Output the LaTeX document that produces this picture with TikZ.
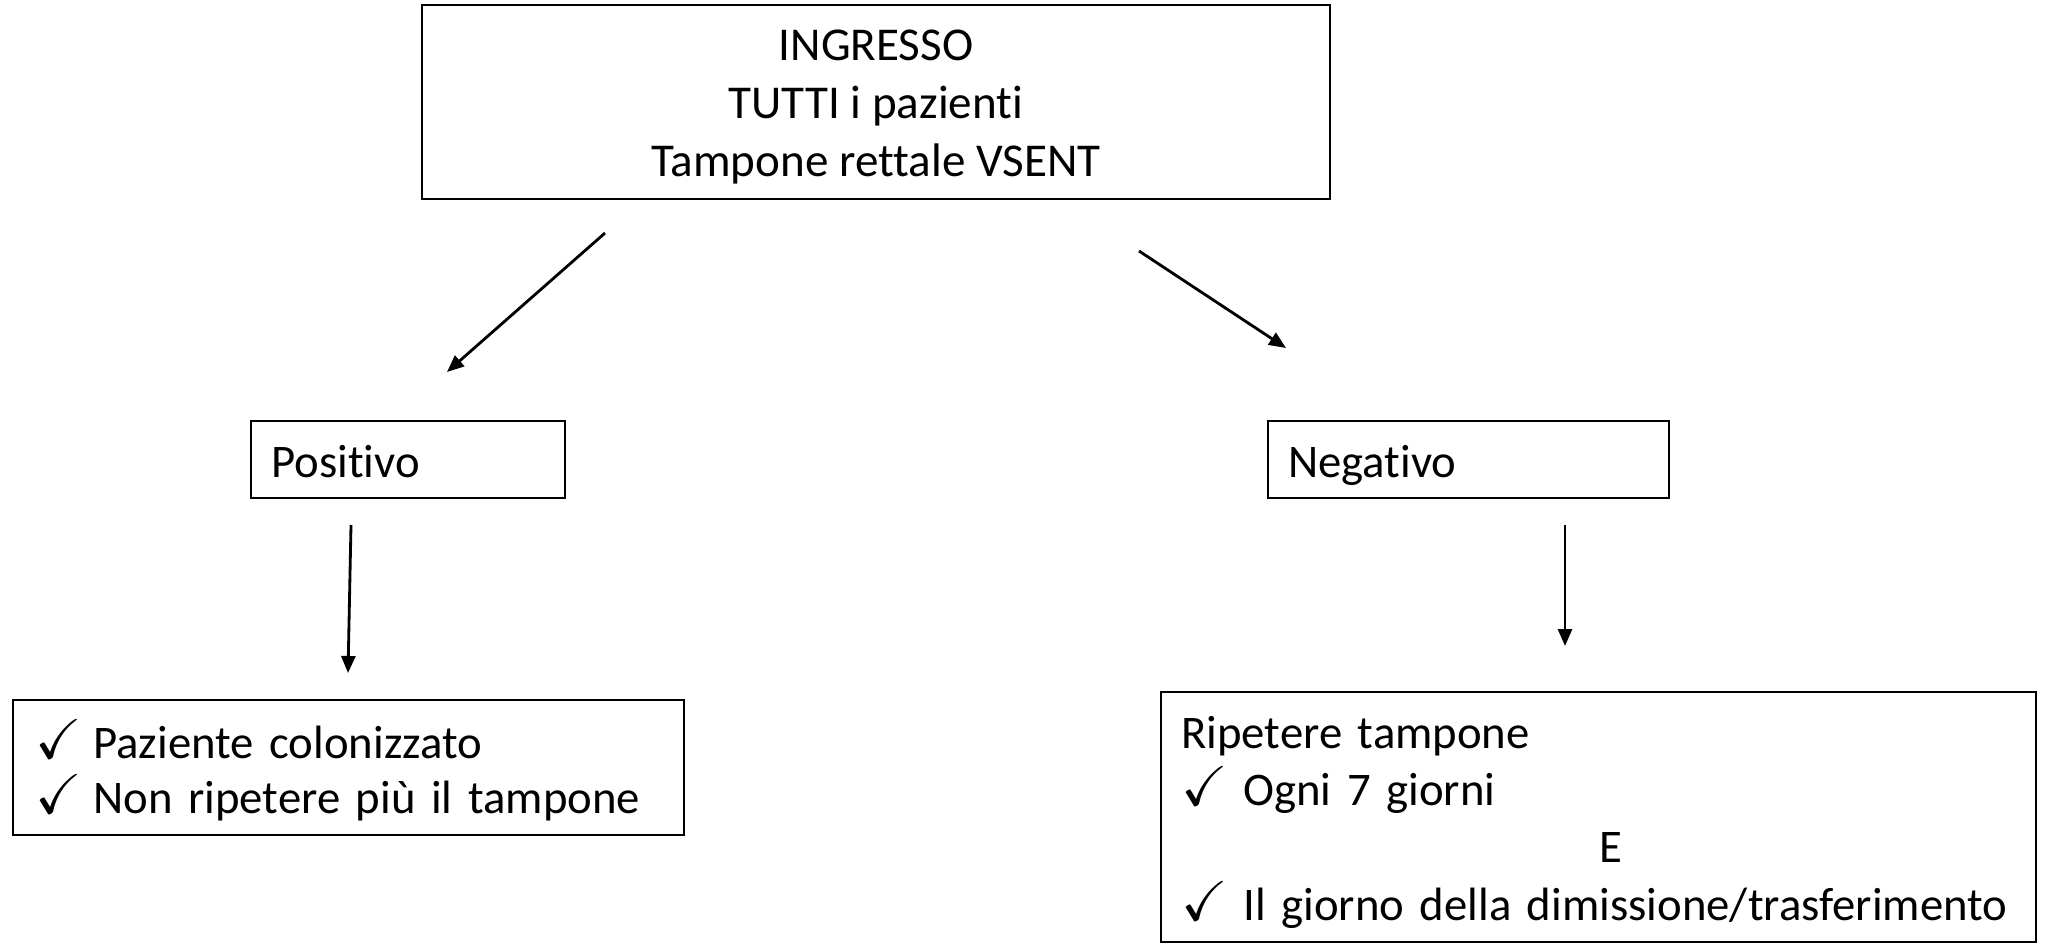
\documentclass[tikz,border=0pt]{standalone}
\usepackage{amssymb}
\usepackage{graphicx}
\usepackage{fontspec}
\setmainfont{Carlito}[Ligatures=NoCommon]
\usetikzlibrary{arrows.meta}
\newcommand{\ck}[1][0.58cm]{\makebox[#1][l]{\scalebox{1.2}{$\checkmark$}}}
\begin{document}
\begin{tikzpicture}[x=1cm,y=-1cm,
  box/.style={draw=black, line width=0.8pt, inner sep=0pt},
  txt/.style={inner sep=0pt, font=\fontsize{13.3}{16.3}\selectfont},
  oneline/.style={text height=0.40cm, text depth=0.04cm},
  flow/.style={line width=0.8pt, -{Triangle[length=0.17cm,width=0.14cm]}}]
\useasboundingbox (0,0) rectangle (20.62,9.44);

% frames
\node[box, minimum width=9.08cm, minimum height=1.94cm] (ing) at (8.76,1.02) {};
\node[box, minimum width=3.14cm, minimum height=0.77cm] (pos) at (4.08,4.595) {};
\node[box, minimum width=4.01cm, minimum height=0.77cm] (neg) at (14.685,4.595) {};
\node[box, minimum width=6.71cm, minimum height=1.35cm] (col) at (3.485,7.675) {};
\node[box, minimum width=8.75cm, minimum height=2.50cm] (rip) at (15.985,8.17) {};

% texts inside the frames
\node[txt, align=center, font=\fontsize{13.4}{16.6}\selectfont, yshift=-0.05cm]
  (ingt) at (ing.center) {INGRESSO\\TUTTI i pazienti\\Tampone rettale VSENT};
\node[txt, oneline, anchor=west, xshift=0.21cm] (post) at (pos.west) {Positivo};
\node[txt, oneline, anchor=west, xshift=0.21cm] (negt) at (neg.west) {Negativo};
\node[txt, text width=6.25cm, align=left, anchor=west, xshift=0.23cm, yshift=-0.03cm,
  font=\fontsize{13.3}{15.8}\selectfont] (colt) at (col.west)
  {\ck Paziente colonizzato\\\ck Non ripetere più il tampone};
\node[txt, text width=8.33cm, align=left, anchor=west, xshift=0.21cm, yshift=-0.05cm]
  (ript) at (rip.west)
  {Ripetere tampone\\\ck[0.62cm]Ogni 7 giorni\\\hspace*{4.18cm}E\\\ck[0.62cm]Il giorno della dimissione/trasferimento};

% free ends of the connectors
\coordinate (a1s) at (6.05,2.33);
\coordinate (a1e) at (4.47,3.72);
\coordinate (a2s) at (11.39,2.51);
\coordinate (a2e) at (12.86,3.48);
\coordinate (a3s) at (3.51,5.25);
\coordinate (a3e) at (3.48,6.73);
\coordinate (a4s) at (15.65,5.25);
\coordinate (a4e) at (15.65,6.46);

\draw[flow] (a1s) -- (a1e);
\draw[flow] (a2s) -- (a2e);
\draw[flow] (a3s) -- (a3e);
\draw[flow] (a4s) -- (a4e);
\end{tikzpicture}
\end{document}
